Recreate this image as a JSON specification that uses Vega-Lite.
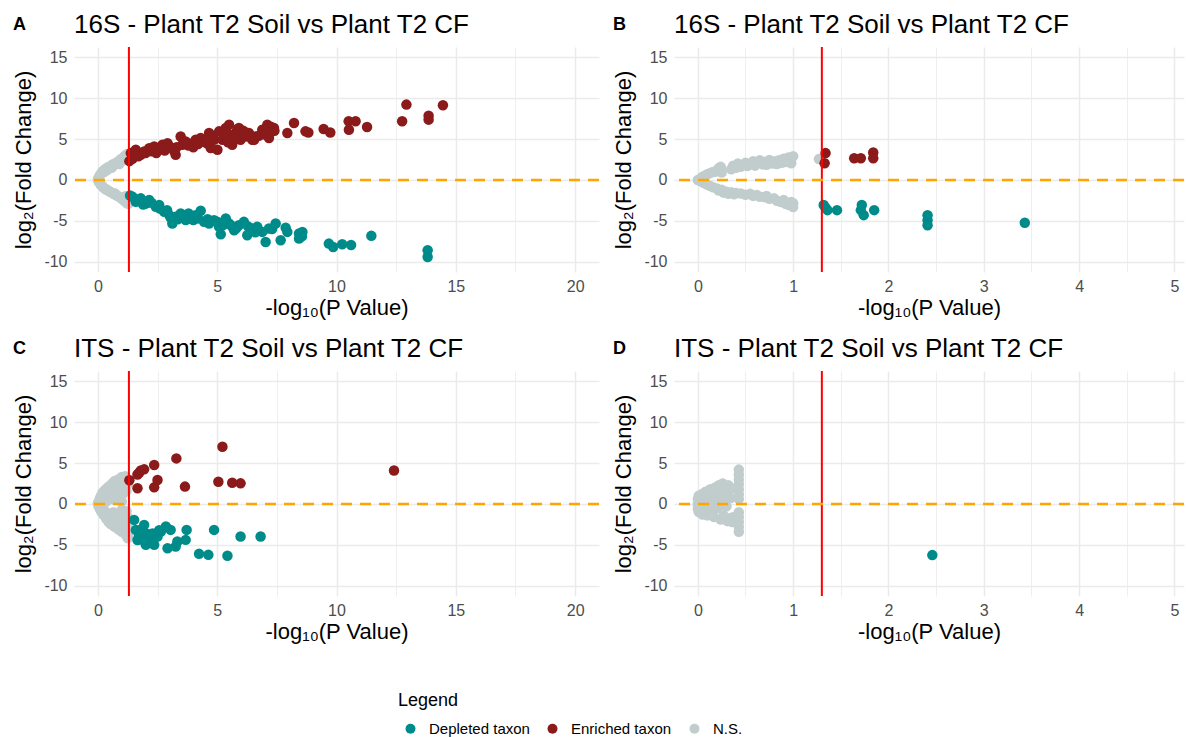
{
"$schema": "https://vega.github.io/schema/vega-lite/v6.json",
"background": "white",
"padding": {"left": 12, "top": 12, "right": 0, "bottom": 0},
"datasets": {
"a": [
{"x":0,"y":0.05,"g":"N.S."},{"x":0.02,"y":0.2,"g":"N.S."},{"x":0.03,"y":-0.15,"g":"N.S."},{"x":0.05,"y":0.35,"g":"N.S."},{"x":0.06,"y":-0.3,"g":"N.S."},{"x":0.08,"y":0.5,"g":"N.S."},{"x":0.1,"y":0.65,"g":"N.S."},{"x":0.1,"y":-0.45,"g":"N.S."},{"x":0.12,"y":-0.6,"g":"N.S."},{"x":0.15,"y":0.8,"g":"N.S."},{"x":0.17,"y":0.95,"g":"N.S."},{"x":0.18,"y":-0.75,"g":"N.S."},{"x":0.2,"y":1.05,"g":"N.S."},{"x":0.22,"y":-0.9,"g":"N.S."},{"x":0.25,"y":1.15,"g":"N.S."},{"x":0.28,"y":1.0,"g":"N.S."},{"x":0.3,"y":1.3,"g":"N.S."},{"x":0.3,"y":-1.05,"g":"N.S."},{"x":0.35,"y":1.4,"g":"N.S."},{"x":0.35,"y":-1.2,"g":"N.S."},{"x":0.4,"y":1.25,"g":"N.S."},{"x":0.42,"y":1.55,"g":"N.S."},{"x":0.45,"y":-1.3,"g":"N.S."},{"x":0.5,"y":1.6,"g":"N.S."},{"x":0.5,"y":-1.45,"g":"N.S."},{"x":0.55,"y":1.75,"g":"N.S."},{"x":0.58,"y":1.5,"g":"N.S."},{"x":0.6,"y":-1.55,"g":"N.S."},{"x":0.62,"y":1.9,"g":"N.S."},{"x":0.65,"y":-1.7,"g":"N.S."},{"x":0.7,"y":1.85,"g":"N.S."},{"x":0.7,"y":2.0,"g":"N.S."},{"x":0.72,"y":-1.65,"g":"N.S."},{"x":0.75,"y":-1.85,"g":"N.S."},{"x":0.8,"y":2.1,"g":"N.S."},{"x":0.8,"y":-1.9,"g":"N.S."},{"x":0.85,"y":2.25,"g":"N.S."},{"x":0.85,"y":-2.0,"g":"N.S."},{"x":0.9,"y":1.95,"g":"N.S."},{"x":0.9,"y":2.35,"g":"N.S."},{"x":0.92,"y":-2.1,"g":"N.S."},{"x":0.95,"y":2.5,"g":"N.S."},{"x":0.97,"y":-2.25,"g":"N.S."},{"x":1.0,"y":2.3,"g":"N.S."},{"x":1.0,"y":2.6,"g":"N.S."},{"x":1.02,"y":-2.3,"g":"N.S."},{"x":1.05,"y":2.7,"g":"N.S."},{"x":1.08,"y":-2.45,"g":"N.S."},{"x":1.1,"y":2.55,"g":"N.S."},{"x":1.1,"y":2.85,"g":"N.S."},{"x":1.12,"y":-2.6,"g":"N.S."},{"x":1.15,"y":3.0,"g":"N.S."},{"x":1.18,"y":-2.7,"g":"N.S."},{"x":1.2,"y":2.7,"g":"N.S."},{"x":1.2,"y":3.1,"g":"N.S."},{"x":1.22,"y":-2.85,"g":"N.S."},{"x":1.25,"y":2.9,"g":"N.S."},{"x":1.25,"y":-2.55,"g":"N.S."},{"x":1.27,"y":3.2,"g":"N.S."},{"x":1.28,"y":-2.9,"g":"N.S."},{"x":1.15,"y":-2.0,"g":"N.S."},{"x":1.25,"y":-2.2,"g":"N.S."},
{"x":1.32,"y":2.3,"g":"Enriched taxon"},{"x":1.38,"y":3.28,"g":"Enriched taxon"},{"x":1.45,"y":2.6,"g":"Enriched taxon"},{"x":1.59,"y":3.69,"g":"Enriched taxon"},{"x":1.8,"y":3.07,"g":"Enriched taxon"},{"x":1.94,"y":3.48,"g":"Enriched taxon"},{"x":2.15,"y":3.89,"g":"Enriched taxon"},{"x":2.36,"y":4.09,"g":"Enriched taxon"},{"x":2.5,"y":3.69,"g":"Enriched taxon"},{"x":2.71,"y":4.3,"g":"Enriched taxon"},{"x":2.92,"y":4.5,"g":"Enriched taxon"},{"x":3.12,"y":3.89,"g":"Enriched taxon"},{"x":3.26,"y":3.07,"g":"Enriched taxon"},{"x":3.47,"y":5.32,"g":"Enriched taxon"},{"x":3.54,"y":4.3,"g":"Enriched taxon"},{"x":3.68,"y":4.71,"g":"Enriched taxon"},{"x":3.96,"y":4.5,"g":"Enriched taxon"},{"x":4.1,"y":4.91,"g":"Enriched taxon"},{"x":4.31,"y":5.12,"g":"Enriched taxon"},{"x":4.45,"y":4.71,"g":"Enriched taxon"},{"x":4.66,"y":5.73,"g":"Enriched taxon"},{"x":4.73,"y":3.89,"g":"Enriched taxon"},{"x":4.87,"y":4.91,"g":"Enriched taxon"},{"x":5.01,"y":3.69,"g":"Enriched taxon"},{"x":5.08,"y":5.94,"g":"Enriched taxon"},{"x":5.22,"y":4.91,"g":"Enriched taxon"},{"x":5.36,"y":6.35,"g":"Enriched taxon"},{"x":5.5,"y":6.76,"g":"Enriched taxon"},{"x":5.57,"y":5.32,"g":"Enriched taxon"},{"x":5.63,"y":4.3,"g":"Enriched taxon"},{"x":5.77,"y":5.73,"g":"Enriched taxon"},{"x":5.91,"y":6.35,"g":"Enriched taxon"},{"x":5.98,"y":4.91,"g":"Enriched taxon"},{"x":6.19,"y":5.32,"g":"Enriched taxon"},{"x":6.33,"y":5.73,"g":"Enriched taxon"},{"x":6.47,"y":4.91,"g":"Enriched taxon"},{"x":6.61,"y":5.32,"g":"Enriched taxon"},{"x":6.89,"y":6.14,"g":"Enriched taxon"},{"x":7.1,"y":6.76,"g":"Enriched taxon"},{"x":7.17,"y":5.12,"g":"Enriched taxon"},{"x":7.31,"y":5.94,"g":"Enriched taxon"},{"x":7.38,"y":6.35,"g":"Enriched taxon"},{"x":7.94,"y":5.73,"g":"Enriched taxon"},{"x":8.22,"y":6.96,"g":"Enriched taxon"},{"x":8.7,"y":5.94,"g":"Enriched taxon"},{"x":8.82,"y":5.81,"g":"Enriched taxon"},{"x":9.46,"y":6.22,"g":"Enriched taxon"},{"x":9.74,"y":5.81,"g":"Enriched taxon"},{"x":10.51,"y":7.17,"g":"Enriched taxon"},{"x":10.8,"y":7.17,"g":"Enriched taxon"},{"x":10.52,"y":6.14,"g":"Enriched taxon"},{"x":11.28,"y":6.47,"g":"Enriched taxon"},{"x":12.75,"y":7.17,"g":"Enriched taxon"},{"x":12.93,"y":9.21,"g":"Enriched taxon"},{"x":13.86,"y":7.86,"g":"Enriched taxon"},{"x":13.86,"y":7.37,"g":"Enriched taxon"},{"x":14.46,"y":9.13,"g":"Enriched taxon"},{"x":1.7,"y":2.9,"g":"Enriched taxon"},{"x":2.0,"y":3.3,"g":"Enriched taxon"},{"x":2.25,"y":3.5,"g":"Enriched taxon"},{"x":2.6,"y":3.9,"g":"Enriched taxon"},{"x":2.8,"y":3.6,"g":"Enriched taxon"},{"x":3.0,"y":4.1,"g":"Enriched taxon"},{"x":3.3,"y":4.0,"g":"Enriched taxon"},{"x":3.8,"y":4.2,"g":"Enriched taxon"},{"x":4.0,"y":4.0,"g":"Enriched taxon"},{"x":4.2,"y":4.4,"g":"Enriched taxon"},{"x":4.55,"y":4.5,"g":"Enriched taxon"},{"x":4.8,"y":5.4,"g":"Enriched taxon"},{"x":5.3,"y":5.5,"g":"Enriched taxon"},{"x":5.45,"y":4.6,"g":"Enriched taxon"},{"x":5.7,"y":5.0,"g":"Enriched taxon"},{"x":6.0,"y":5.6,"g":"Enriched taxon"},{"x":6.1,"y":6.0,"g":"Enriched taxon"},{"x":6.4,"y":5.4,"g":"Enriched taxon"},{"x":6.55,"y":4.9,"g":"Enriched taxon"},{"x":6.75,"y":5.4,"g":"Enriched taxon"},{"x":7.0,"y":6.1,"g":"Enriched taxon"},{"x":7.05,"y":5.5,"g":"Enriched taxon"},{"x":7.25,"y":6.5,"g":"Enriched taxon"},{"x":7.4,"y":6.0,"g":"Enriched taxon"},{"x":5.4,"y":5.8,"g":"Enriched taxon"},{"x":5.85,"y":6.2,"g":"Enriched taxon"},{"x":3.2,"y":3.5,"g":"Enriched taxon"},{"x":2.45,"y":3.3,"g":"Enriched taxon"},
{"x":1.45,"y":-2.05,"g":"Depleted taxon"},{"x":1.59,"y":-2.66,"g":"Depleted taxon"},{"x":1.8,"y":-2.25,"g":"Depleted taxon"},{"x":2.01,"y":-2.87,"g":"Depleted taxon"},{"x":2.15,"y":-2.46,"g":"Depleted taxon"},{"x":2.43,"y":-3.28,"g":"Depleted taxon"},{"x":2.57,"y":-3.07,"g":"Depleted taxon"},{"x":2.78,"y":-3.89,"g":"Depleted taxon"},{"x":2.99,"y":-4.3,"g":"Depleted taxon"},{"x":3.12,"y":-5.32,"g":"Depleted taxon"},{"x":3.26,"y":-4.5,"g":"Depleted taxon"},{"x":3.47,"y":-4.09,"g":"Depleted taxon"},{"x":3.68,"y":-4.91,"g":"Depleted taxon"},{"x":3.89,"y":-4.71,"g":"Depleted taxon"},{"x":4.1,"y":-4.3,"g":"Depleted taxon"},{"x":4.31,"y":-3.77,"g":"Depleted taxon"},{"x":4.45,"y":-5.12,"g":"Depleted taxon"},{"x":4.66,"y":-5.32,"g":"Depleted taxon"},{"x":4.87,"y":-4.91,"g":"Depleted taxon"},{"x":5.08,"y":-5.73,"g":"Depleted taxon"},{"x":5.15,"y":-6.63,"g":"Depleted taxon"},{"x":5.36,"y":-4.71,"g":"Depleted taxon"},{"x":5.5,"y":-5.32,"g":"Depleted taxon"},{"x":5.71,"y":-6.14,"g":"Depleted taxon"},{"x":5.91,"y":-5.53,"g":"Depleted taxon"},{"x":6.12,"y":-5.12,"g":"Depleted taxon"},{"x":6.26,"y":-6.76,"g":"Depleted taxon"},{"x":6.47,"y":-5.94,"g":"Depleted taxon"},{"x":6.68,"y":-5.73,"g":"Depleted taxon"},{"x":6.89,"y":-6.35,"g":"Depleted taxon"},{"x":7.03,"y":-7.58,"g":"Depleted taxon"},{"x":7.17,"y":-5.94,"g":"Depleted taxon"},{"x":7.45,"y":-5.32,"g":"Depleted taxon"},{"x":7.66,"y":-7.37,"g":"Depleted taxon"},{"x":7.87,"y":-5.84,"g":"Depleted taxon"},{"x":7.94,"y":-6.35,"g":"Depleted taxon"},{"x":8.43,"y":-6.55,"g":"Depleted taxon"},{"x":8.57,"y":-6.35,"g":"Depleted taxon"},{"x":8.43,"y":-7.17,"g":"Depleted taxon"},{"x":9.68,"y":-7.78,"g":"Depleted taxon"},{"x":9.86,"y":-8.19,"g":"Depleted taxon"},{"x":10.24,"y":-7.86,"g":"Depleted taxon"},{"x":10.61,"y":-7.94,"g":"Depleted taxon"},{"x":11.46,"y":-6.83,"g":"Depleted taxon"},{"x":13.82,"y":-8.6,"g":"Depleted taxon"},{"x":13.82,"y":-9.42,"g":"Depleted taxon"},{"x":1.35,"y":-1.9,"g":"Depleted taxon"},{"x":1.7,"y":-2.4,"g":"Depleted taxon"},{"x":1.9,"y":-3.0,"g":"Depleted taxon"},{"x":2.25,"y":-2.8,"g":"Depleted taxon"},{"x":2.6,"y":-3.5,"g":"Depleted taxon"},{"x":2.9,"y":-3.7,"g":"Depleted taxon"},{"x":3.05,"y":-4.6,"g":"Depleted taxon"},{"x":3.35,"y":-4.8,"g":"Depleted taxon"},{"x":3.6,"y":-4.4,"g":"Depleted taxon"},{"x":3.8,"y":-4.1,"g":"Depleted taxon"},{"x":4.0,"y":-4.9,"g":"Depleted taxon"},{"x":4.2,"y":-4.7,"g":"Depleted taxon"},{"x":4.6,"y":-4.8,"g":"Depleted taxon"},{"x":5.0,"y":-5.1,"g":"Depleted taxon"},{"x":5.25,"y":-5.5,"g":"Depleted taxon"},{"x":5.6,"y":-5.6,"g":"Depleted taxon"},{"x":5.8,"y":-5.9,"g":"Depleted taxon"},{"x":6.3,"y":-5.7,"g":"Depleted taxon"},{"x":6.6,"y":-6.4,"g":"Depleted taxon"},{"x":7.3,"y":-6.0,"g":"Depleted taxon"},{"x":8.55,"y":-6.9,"g":"Depleted taxon"}
],
"b": [
{"x":0,"y":0,"g":"N.S."},{"x":0.02,"y":0.1,"g":"N.S."},{"x":0.04,"y":0.3,"g":"N.S."},{"x":0.06,"y":0.45,"g":"N.S."},{"x":0.08,"y":0.55,"g":"N.S."},{"x":0.1,"y":0.7,"g":"N.S."},{"x":0.12,"y":0.8,"g":"N.S."},{"x":0.15,"y":0.95,"g":"N.S."},{"x":0.18,"y":1.0,"g":"N.S."},{"x":0.2,"y":1.2,"g":"N.S."},{"x":0.22,"y":1.45,"g":"N.S."},{"x":0.24,"y":1.6,"g":"N.S."},{"x":0.25,"y":0.9,"g":"N.S."},{"x":0.25,"y":1.25,"g":"N.S."},{"x":0.35,"y":1.3,"g":"N.S."},{"x":0.37,"y":1.75,"g":"N.S."},{"x":0.4,"y":1.5,"g":"N.S."},{"x":0.42,"y":2.0,"g":"N.S."},{"x":0.45,"y":1.6,"g":"N.S."},{"x":0.48,"y":1.85,"g":"N.S."},{"x":0.5,"y":2.1,"g":"N.S."},{"x":0.52,"y":1.7,"g":"N.S."},{"x":0.55,"y":1.9,"g":"N.S."},{"x":0.58,"y":2.3,"g":"N.S."},{"x":0.6,"y":1.75,"g":"N.S."},{"x":0.62,"y":2.05,"g":"N.S."},{"x":0.65,"y":2.4,"g":"N.S."},{"x":0.68,"y":1.9,"g":"N.S."},{"x":0.7,"y":2.2,"g":"N.S."},{"x":0.72,"y":1.85,"g":"N.S."},{"x":0.75,"y":2.45,"g":"N.S."},{"x":0.78,"y":2.0,"g":"N.S."},{"x":0.8,"y":2.25,"g":"N.S."},{"x":0.83,"y":1.95,"g":"N.S."},{"x":0.85,"y":2.4,"g":"N.S."},{"x":0.88,"y":2.1,"g":"N.S."},{"x":0.9,"y":2.6,"g":"N.S."},{"x":0.92,"y":2.2,"g":"N.S."},{"x":0.95,"y":2.75,"g":"N.S."},{"x":0.97,"y":2.35,"g":"N.S."},{"x":0.98,"y":2.05,"g":"N.S."},{"x":1.0,"y":2.9,"g":"N.S."},{"x":1.27,"y":2.55,"g":"N.S."},
{"x":0.02,"y":-0.1,"g":"N.S."},{"x":0.05,"y":-0.3,"g":"N.S."},{"x":0.08,"y":-0.45,"g":"N.S."},{"x":0.1,"y":-0.6,"g":"N.S."},{"x":0.13,"y":-0.75,"g":"N.S."},{"x":0.16,"y":-0.9,"g":"N.S."},{"x":0.2,"y":-1.05,"g":"N.S."},{"x":0.22,"y":-1.3,"g":"N.S."},{"x":0.25,"y":-1.2,"g":"N.S."},{"x":0.27,"y":-1.55,"g":"N.S."},{"x":0.3,"y":-1.45,"g":"N.S."},{"x":0.32,"y":-1.7,"g":"N.S."},{"x":0.35,"y":-1.5,"g":"N.S."},{"x":0.38,"y":-1.75,"g":"N.S."},{"x":0.4,"y":-1.6,"g":"N.S."},{"x":0.45,"y":-1.65,"g":"N.S."},{"x":0.5,"y":-1.8,"g":"N.S."},{"x":0.55,"y":-1.7,"g":"N.S."},{"x":0.58,"y":-1.95,"g":"N.S."},{"x":0.62,"y":-1.85,"g":"N.S."},{"x":0.65,"y":-2.05,"g":"N.S."},{"x":0.7,"y":-2.1,"g":"N.S."},{"x":0.72,"y":-1.95,"g":"N.S."},{"x":0.75,"y":-2.3,"g":"N.S."},{"x":0.8,"y":-2.25,"g":"N.S."},{"x":0.83,"y":-2.55,"g":"N.S."},{"x":0.87,"y":-2.7,"g":"N.S."},{"x":0.9,"y":-2.45,"g":"N.S."},{"x":0.92,"y":-2.9,"g":"N.S."},{"x":0.95,"y":-3.05,"g":"N.S."},{"x":0.98,"y":-2.7,"g":"N.S."},{"x":1.0,"y":-3.3,"g":"N.S."},{"x":1.0,"y":-2.85,"g":"N.S."},
{"x":1.34,"y":3.28,"g":"Enriched taxon"},{"x":1.33,"y":2.05,"g":"Enriched taxon"},{"x":1.64,"y":2.66,"g":"Enriched taxon"},{"x":1.71,"y":2.66,"g":"Enriched taxon"},{"x":1.84,"y":3.36,"g":"Enriched taxon"},{"x":1.84,"y":2.66,"g":"Enriched taxon"},
{"x":1.32,"y":-3.07,"g":"Depleted taxon"},{"x":1.34,"y":-3.4,"g":"Depleted taxon"},{"x":1.36,"y":-3.69,"g":"Depleted taxon"},{"x":1.46,"y":-3.69,"g":"Depleted taxon"},{"x":1.72,"y":-3.07,"g":"Depleted taxon"},{"x":1.71,"y":-3.69,"g":"Depleted taxon"},{"x":1.74,"y":-4.3,"g":"Depleted taxon"},{"x":1.85,"y":-3.69,"g":"Depleted taxon"},{"x":2.41,"y":-4.3,"g":"Depleted taxon"},{"x":2.41,"y":-4.91,"g":"Depleted taxon"},{"x":2.41,"y":-5.53,"g":"Depleted taxon"},{"x":3.43,"y":-5.24,"g":"Depleted taxon"}
],
"c": [
{"x":0,"y":0.1,"g":"N.S."},{"x":0.05,"y":0.4,"g":"N.S."},{"x":0.1,"y":0.8,"g":"N.S."},{"x":0.15,"y":1.1,"g":"N.S."},{"x":0.2,"y":1.4,"g":"N.S."},{"x":0.25,"y":0.6,"g":"N.S."},{"x":0.3,"y":1.7,"g":"N.S."},{"x":0.35,"y":1.1,"g":"N.S."},{"x":0.4,"y":2.0,"g":"N.S."},{"x":0.45,"y":1.4,"g":"N.S."},{"x":0.5,"y":2.2,"g":"N.S."},{"x":0.55,"y":0.9,"g":"N.S."},{"x":0.6,"y":2.5,"g":"N.S."},{"x":0.62,"y":1.7,"g":"N.S."},{"x":0.7,"y":2.8,"g":"N.S."},{"x":0.75,"y":2.1,"g":"N.S."},{"x":0.8,"y":1.3,"g":"N.S."},{"x":0.85,"y":3.0,"g":"N.S."},{"x":0.9,"y":2.4,"g":"N.S."},{"x":0.95,"y":1.8,"g":"N.S."},{"x":1.0,"y":3.3,"g":"N.S."},{"x":1.05,"y":2.7,"g":"N.S."},{"x":1.1,"y":2.0,"g":"N.S."},{"x":1.15,"y":3.4,"g":"N.S."},{"x":1.2,"y":2.9,"g":"N.S."},{"x":1.25,"y":2.4,"g":"N.S."},{"x":1.28,"y":3.0,"g":"N.S."},{"x":0.7,"y":0.5,"g":"N.S."},{"x":0.9,"y":0.9,"g":"N.S."},{"x":1.05,"y":1.2,"g":"N.S."},{"x":1.2,"y":1.6,"g":"N.S."},{"x":1.0,"y":0.3,"g":"N.S."},{"x":0.35,"y":0.3,"g":"N.S."},
{"x":0.02,"y":-0.2,"g":"N.S."},{"x":0.08,"y":-0.6,"g":"N.S."},{"x":0.15,"y":-1.0,"g":"N.S."},{"x":0.2,"y":-0.5,"g":"N.S."},{"x":0.25,"y":-1.4,"g":"N.S."},{"x":0.3,"y":-0.9,"g":"N.S."},{"x":0.35,"y":-1.8,"g":"N.S."},{"x":0.4,"y":-1.2,"g":"N.S."},{"x":0.45,"y":-2.2,"g":"N.S."},{"x":0.5,"y":-1.6,"g":"N.S."},{"x":0.55,"y":-2.5,"g":"N.S."},{"x":0.6,"y":-1.9,"g":"N.S."},{"x":0.65,"y":-1.0,"g":"N.S."},{"x":0.7,"y":-2.8,"g":"N.S."},{"x":0.75,"y":-2.2,"g":"N.S."},{"x":0.8,"y":-1.5,"g":"N.S."},{"x":0.85,"y":-3.1,"g":"N.S."},{"x":0.9,"y":-2.5,"g":"N.S."},{"x":0.95,"y":-1.8,"g":"N.S."},{"x":1.0,"y":-3.4,"g":"N.S."},{"x":1.05,"y":-2.8,"g":"N.S."},{"x":1.1,"y":-2.1,"g":"N.S."},{"x":1.15,"y":-3.7,"g":"N.S."},{"x":1.2,"y":-3.1,"g":"N.S."},{"x":1.25,"y":-2.5,"g":"N.S."},{"x":1.28,"y":-3.9,"g":"N.S."},{"x":1.25,"y":-4.2,"g":"N.S."},{"x":1.1,"y":-1.3,"g":"N.S."},{"x":1.2,"y":-0.9,"g":"N.S."},{"x":1.0,"y":-0.7,"g":"N.S."},{"x":1.25,"y":-1.6,"g":"N.S."},
{"x":1.32,"y":2.9,"g":"Enriched taxon"},{"x":1.66,"y":1.91,"g":"Enriched taxon"},{"x":1.66,"y":3.6,"g":"Enriched taxon"},{"x":1.73,"y":3.82,"g":"Enriched taxon"},{"x":1.8,"y":4.1,"g":"Enriched taxon"},{"x":1.94,"y":4.23,"g":"Enriched taxon"},{"x":2.36,"y":4.76,"g":"Enriched taxon"},{"x":2.36,"y":2.03,"g":"Enriched taxon"},{"x":2.5,"y":2.93,"g":"Enriched taxon"},{"x":3.29,"y":5.57,"g":"Enriched taxon"},{"x":3.65,"y":2.12,"g":"Enriched taxon"},{"x":5.05,"y":2.72,"g":"Enriched taxon"},{"x":5.22,"y":6.99,"g":"Enriched taxon"},{"x":5.63,"y":2.6,"g":"Enriched taxon"},{"x":5.98,"y":2.52,"g":"Enriched taxon"},{"x":12.41,"y":4.08,"g":"Enriched taxon"},
{"x":1.52,"y":-1.95,"g":"Depleted taxon"},{"x":1.59,"y":-3.17,"g":"Depleted taxon"},{"x":1.66,"y":-4.4,"g":"Depleted taxon"},{"x":1.73,"y":-3.78,"g":"Depleted taxon"},{"x":1.73,"y":-3.2,"g":"Depleted taxon"},{"x":1.8,"y":-3.6,"g":"Depleted taxon"},{"x":1.87,"y":-4.39,"g":"Depleted taxon"},{"x":1.94,"y":-2.56,"g":"Depleted taxon"},{"x":2.01,"y":-3.58,"g":"Depleted taxon"},{"x":2.01,"y":-5.0,"g":"Depleted taxon"},{"x":2.15,"y":-4.59,"g":"Depleted taxon"},{"x":2.15,"y":-4.0,"g":"Depleted taxon"},{"x":2.29,"y":-3.6,"g":"Depleted taxon"},{"x":2.36,"y":-5.0,"g":"Depleted taxon"},{"x":2.5,"y":-3.98,"g":"Depleted taxon"},{"x":2.57,"y":-3.2,"g":"Depleted taxon"},{"x":2.64,"y":-3.37,"g":"Depleted taxon"},{"x":2.85,"y":-2.76,"g":"Depleted taxon"},{"x":2.92,"y":-5.41,"g":"Depleted taxon"},{"x":3.05,"y":-3.17,"g":"Depleted taxon"},{"x":3.26,"y":-5.2,"g":"Depleted taxon"},{"x":3.33,"y":-4.59,"g":"Depleted taxon"},{"x":3.68,"y":-4.39,"g":"Depleted taxon"},{"x":3.72,"y":-3.17,"g":"Depleted taxon"},{"x":4.24,"y":-6.1,"g":"Depleted taxon"},{"x":4.63,"y":-6.22,"g":"Depleted taxon"},{"x":4.87,"y":-3.17,"g":"Depleted taxon"},{"x":5.43,"y":-6.34,"g":"Depleted taxon"},{"x":5.98,"y":-3.98,"g":"Depleted taxon"},{"x":6.82,"y":-3.98,"g":"Depleted taxon"}
],
"d": [
{"x":0.0,"y":0.0,"g":"N.S."},{"x":0.0,"y":0.6,"g":"N.S."},{"x":0.0,"y":-0.6,"g":"N.S."},{"x":0.01,"y":1.0,"g":"N.S."},{"x":0.01,"y":-1.0,"g":"N.S."},{"x":0.03,"y":0.3,"g":"N.S."},{"x":0.03,"y":-0.3,"g":"N.S."},{"x":0.04,"y":1.2,"g":"N.S."},{"x":0.05,"y":-1.3,"g":"N.S."},{"x":0.06,"y":0.8,"g":"N.S."},{"x":0.07,"y":-0.8,"g":"N.S."},{"x":0.08,"y":1.5,"g":"N.S."},{"x":0.09,"y":0.1,"g":"N.S."},{"x":0.1,"y":-1.4,"g":"N.S."},{"x":0.11,"y":1.0,"g":"N.S."},{"x":0.12,"y":-0.4,"g":"N.S."},{"x":0.13,"y":1.8,"g":"N.S."},{"x":0.14,"y":0.5,"g":"N.S."},{"x":0.15,"y":-1.0,"g":"N.S."},{"x":0.16,"y":1.4,"g":"N.S."},{"x":0.17,"y":-1.6,"g":"N.S."},{"x":0.18,"y":2.0,"g":"N.S."},{"x":0.19,"y":0.2,"g":"N.S."},{"x":0.2,"y":1.0,"g":"N.S."},{"x":0.21,"y":-0.5,"g":"N.S."},{"x":0.22,"y":2.3,"g":"N.S."},{"x":0.23,"y":1.6,"g":"N.S."},{"x":0.24,"y":-1.9,"g":"N.S."},{"x":0.25,"y":0.6,"g":"N.S."},{"x":0.26,"y":2.5,"g":"N.S."},{"x":0.27,"y":-1.4,"g":"N.S."},{"x":0.28,"y":2.0,"g":"N.S."},{"x":0.29,"y":1.2,"g":"N.S."},{"x":0.3,"y":-0.3,"g":"N.S."},{"x":0.31,"y":-2.1,"g":"N.S."},{"x":0.32,"y":2.3,"g":"N.S."},{"x":0.33,"y":1.7,"g":"N.S."},{"x":0.34,"y":0.7,"g":"N.S."},{"x":0.35,"y":-1.7,"g":"N.S."},{"x":0.36,"y":-2.2,"g":"N.S."},{"x":0.38,"y":-1.6,"g":"N.S."},{"x":0.39,"y":1.9,"g":"N.S."},{"x":0.42,"y":-1.9,"g":"N.S."},{"x":0.43,"y":4.2,"g":"N.S."},{"x":0.43,"y":3.6,"g":"N.S."},{"x":0.43,"y":3.0,"g":"N.S."},{"x":0.43,"y":2.4,"g":"N.S."},{"x":0.43,"y":1.8,"g":"N.S."},{"x":0.43,"y":1.2,"g":"N.S."},{"x":0.43,"y":0.6,"g":"N.S."},{"x":0.43,"y":-1.0,"g":"N.S."},{"x":0.43,"y":-1.6,"g":"N.S."},{"x":0.43,"y":-2.2,"g":"N.S."},{"x":0.43,"y":-2.8,"g":"N.S."},{"x":0.43,"y":-3.4,"g":"N.S."},
{"x":2.46,"y":-6.25,"g":"Depleted taxon"}
]
},
"concat": [
{
"title": {"text": "A", "anchor": "start", "frame": "bounds", "fontSize": 18, "fontWeight": "bold", "offset": 0, "dy": 22},
"vconcat": [{
"width": 525, "height": 225,
"title": {"text": "16S - Plant T2 Soil vs Plant T2 CF", "anchor": "start", "frame": "group", "fontSize": 26, "offset": 8},
"layer": [
{"data": {"name": "a"}, "mark": {"type": "point", "filled": true, "size": 110, "opacity": 1},
 "encoding": {
  "x": {"field": "x", "type": "quantitative", "title": "-log₁₀(P Value)", "scale": {"domain": [-1, 21], "nice": false, "zero": false}, "axis": {"values": [0,2.5,5,7.5,10,12.5,15,17.5,20], "labelExpr": "datum.value % 5 === 0 ? toString(datum.value) : ''", "gridWidth": {"condition": {"test": "datum.value % 5 !== 0", "value": 0.8}, "value": 1.5}}},
  "y": {"field": "y", "type": "quantitative", "title": "log₂(Fold Change)", "scale": {"domain": [-11.25, 16.25], "nice": false, "zero": false}, "axis": {"values": [-10,-7.5,-5,-2.5,0,2.5,5,7.5,10,12.5,15], "labelExpr": "datum.value % 5 === 0 ? toString(datum.value) : ''", "gridWidth": {"condition": {"test": "datum.value % 5 !== 0", "value": 0.8}, "value": 1.5}}},
  "color": {"field": "g", "type": "nominal", "scale": {"domain": ["Depleted taxon", "Enriched taxon", "N.S."], "range": ["#008B8B", "#8B1A1A", "#C1CDCD"]}, "legend": {"title": "Legend", "orient": "none", "legendX": 324, "legendY": 645, "direction": "horizontal"}}
 }},
{"data": {"values": [{"p": 1.301}]}, "mark": {"type": "rule", "color": "#FF0000", "strokeWidth": 2}, "encoding": {"x": {"field": "p", "type": "quantitative", "title": "-log₁₀(P Value)"}}},
{"data": {"values": [{"f": 0}]}, "mark": {"type": "rule", "color": "#FFA500", "strokeWidth": 2.5, "strokeDash": [11, 8]}, "encoding": {"y": {"field": "f", "type": "quantitative", "title": "log₂(Fold Change)"}}}
]
}]
},
{
"title": {"text": "B", "anchor": "start", "frame": "bounds", "fontSize": 18, "fontWeight": "bold", "offset": 0, "dy": 22},
"vconcat": [{
"width": 510, "height": 225,
"title": {"text": "16S - Plant T2 Soil vs Plant T2 CF", "anchor": "start", "frame": "group", "fontSize": 26, "offset": 8},
"layer": [
{"data": {"name": "b"}, "mark": {"type": "point", "filled": true, "size": 110, "opacity": 1},
 "encoding": {
  "x": {"field": "x", "type": "quantitative", "title": "-log₁₀(P Value)", "scale": {"domain": [-0.25, 5.1], "nice": false, "zero": false}, "axis": {"values": [0,0.5,1,1.5,2,2.5,3,3.5,4,4.5,5], "labelExpr": "datum.value % 1 === 0 ? toString(datum.value) : ''", "gridWidth": {"condition": {"test": "datum.value % 1 !== 0", "value": 0.8}, "value": 1.5}}},
  "y": {"field": "y", "type": "quantitative", "title": "log₂(Fold Change)", "scale": {"domain": [-11.25, 16.25], "nice": false, "zero": false}, "axis": {"values": [-10,-7.5,-5,-2.5,0,2.5,5,7.5,10,12.5,15], "labelExpr": "datum.value % 5 === 0 ? toString(datum.value) : ''", "gridWidth": {"condition": {"test": "datum.value % 5 !== 0", "value": 0.8}, "value": 1.5}}},
  "color": {"field": "g", "type": "nominal", "scale": {"domain": ["Depleted taxon", "Enriched taxon", "N.S."], "range": ["#008B8B", "#8B1A1A", "#C1CDCD"]}, "legend": {"title": "Legend", "orient": "none", "legendX": 324, "legendY": 645, "direction": "horizontal"}}
 }},
{"data": {"values": [{"p": 1.301}]}, "mark": {"type": "rule", "color": "#FF0000", "strokeWidth": 2}, "encoding": {"x": {"field": "p", "type": "quantitative", "title": "-log₁₀(P Value)"}}},
{"data": {"values": [{"f": 0}]}, "mark": {"type": "rule", "color": "#FFA500", "strokeWidth": 2.5, "strokeDash": [11, 8]}, "encoding": {"y": {"field": "f", "type": "quantitative", "title": "log₂(Fold Change)"}}}
]
}]
},
{
"title": {"text": "C", "anchor": "start", "frame": "bounds", "fontSize": 18, "fontWeight": "bold", "offset": 0, "dy": 22},
"vconcat": [{
"width": 525, "height": 225,
"title": {"text": "ITS - Plant T2 Soil vs Plant T2 CF", "anchor": "start", "frame": "group", "fontSize": 26, "offset": 8},
"layer": [
{"data": {"name": "c"}, "mark": {"type": "point", "filled": true, "size": 110, "opacity": 1},
 "encoding": {
  "x": {"field": "x", "type": "quantitative", "title": "-log₁₀(P Value)", "scale": {"domain": [-1, 21], "nice": false, "zero": false}, "axis": {"values": [0,2.5,5,7.5,10,12.5,15,17.5,20], "labelExpr": "datum.value % 5 === 0 ? toString(datum.value) : ''", "gridWidth": {"condition": {"test": "datum.value % 5 !== 0", "value": 0.8}, "value": 1.5}}},
  "y": {"field": "y", "type": "quantitative", "title": "log₂(Fold Change)", "scale": {"domain": [-11.25, 16.25], "nice": false, "zero": false}, "axis": {"values": [-10,-7.5,-5,-2.5,0,2.5,5,7.5,10,12.5,15], "labelExpr": "datum.value % 5 === 0 ? toString(datum.value) : ''", "gridWidth": {"condition": {"test": "datum.value % 5 !== 0", "value": 0.8}, "value": 1.5}}},
  "color": {"field": "g", "type": "nominal", "scale": {"domain": ["Depleted taxon", "Enriched taxon", "N.S."], "range": ["#008B8B", "#8B1A1A", "#C1CDCD"]}, "legend": {"title": "Legend", "orient": "none", "legendX": 324, "legendY": 645, "direction": "horizontal"}}
 }},
{"data": {"values": [{"p": 1.301}]}, "mark": {"type": "rule", "color": "#FF0000", "strokeWidth": 2}, "encoding": {"x": {"field": "p", "type": "quantitative", "title": "-log₁₀(P Value)"}}},
{"data": {"values": [{"f": 0}]}, "mark": {"type": "rule", "color": "#FFA500", "strokeWidth": 2.5, "strokeDash": [11, 8]}, "encoding": {"y": {"field": "f", "type": "quantitative", "title": "log₂(Fold Change)"}}}
]
}]
},
{
"title": {"text": "D", "anchor": "start", "frame": "bounds", "fontSize": 18, "fontWeight": "bold", "offset": 0, "dy": 22},
"vconcat": [{
"width": 510, "height": 225,
"title": {"text": "ITS - Plant T2 Soil vs Plant T2 CF", "anchor": "start", "frame": "group", "fontSize": 26, "offset": 8},
"layer": [
{"data": {"name": "d"}, "mark": {"type": "point", "filled": true, "size": 110, "opacity": 1},
 "encoding": {
  "x": {"field": "x", "type": "quantitative", "title": "-log₁₀(P Value)", "scale": {"domain": [-0.25, 5.1], "nice": false, "zero": false}, "axis": {"values": [0,0.5,1,1.5,2,2.5,3,3.5,4,4.5,5], "labelExpr": "datum.value % 1 === 0 ? toString(datum.value) : ''", "gridWidth": {"condition": {"test": "datum.value % 1 !== 0", "value": 0.8}, "value": 1.5}}},
  "y": {"field": "y", "type": "quantitative", "title": "log₂(Fold Change)", "scale": {"domain": [-11.25, 16.25], "nice": false, "zero": false}, "axis": {"values": [-10,-7.5,-5,-2.5,0,2.5,5,7.5,10,12.5,15], "labelExpr": "datum.value % 5 === 0 ? toString(datum.value) : ''", "gridWidth": {"condition": {"test": "datum.value % 5 !== 0", "value": 0.8}, "value": 1.5}}},
  "color": {"field": "g", "type": "nominal", "scale": {"domain": ["Depleted taxon", "Enriched taxon", "N.S."], "range": ["#008B8B", "#8B1A1A", "#C1CDCD"]}, "legend": {"title": "Legend", "orient": "none", "legendX": 324, "legendY": 645, "direction": "horizontal"}}
 }},
{"data": {"values": [{"p": 1.301}]}, "mark": {"type": "rule", "color": "#FF0000", "strokeWidth": 2}, "encoding": {"x": {"field": "p", "type": "quantitative", "title": "-log₁₀(P Value)"}}},
{"data": {"values": [{"f": 0}]}, "mark": {"type": "rule", "color": "#FFA500", "strokeWidth": 2.5, "strokeDash": [11, 8]}, "encoding": {"y": {"field": "f", "type": "quantitative", "title": "log₂(Fold Change)"}}}
]
}]
}
],
"columns": 2,
"spacing": {"row": 18, "column": 11},
"resolve": {"scale": {"color": "shared"}, "legend": {"color": "shared"}},
"config": {
"font": "Liberation Sans",
"view": {"stroke": null},
"axis": {"domain": false, "ticks": false, "tickSize": 0, "gridColor": "#EBEBEB", "labelColor": "#4D4D4D", "labelFontSize": 16, "titleFontSize": 22, "titleFontWeight": "normal", "titleColor": "#000000", "labelOverlap": false, "labelFlush": false, "labelBound": false},
"axisX": {"labelPadding": 6, "titlePadding": 3},
"axisY": {"labelPadding": 7, "titlePadding": 8},
"title": {"color": "#000000", "fontWeight": "normal"},
"legend": {"titleFontSize": 18, "titleFontWeight": "normal", "titleColor": "#000000", "labelFontSize": 15, "labelColor": "#000000", "symbolType": "circle", "symbolSize": 100, "symbolStrokeWidth": 0, "labelOffset": 11, "columnPadding": 10, "symbolOffset": 5, "padding": 0, "titlePadding": 11}
}
}
